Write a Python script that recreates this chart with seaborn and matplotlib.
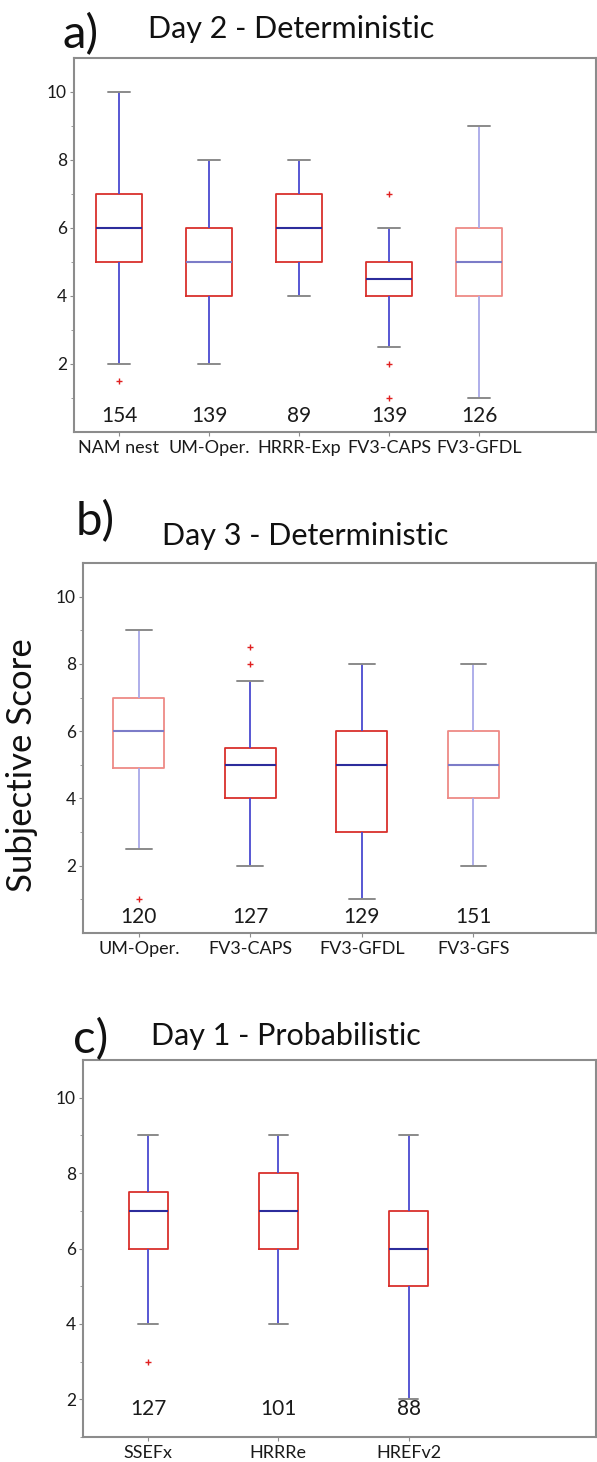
import numpy as np
import pandas as pd
import matplotlib
matplotlib.use("Agg")
import matplotlib.pyplot as plt
import seaborn as sns

# ---------------- data ----------------
# Panel a: Day 2 - Deterministic
a_models = ["NAM nest", "UM-Oper.", "HRRR-Exp", "FV3-CAPS", "FV3-GFDL"]
a_low = [2, 2, 4, 2.5, 1]
a_q1 = [5, 4, 5, 4, 4]
a_med = [6, 5, 6, 4.5, 5]
a_q3 = [7, 6, 7, 5, 6]
a_high = [10, 8, 8, 6, 9]
a_n = [154, 139, 89, 139, 126]
a_out_model = ["NAM nest", "FV3-CAPS", "FV3-CAPS", "FV3-CAPS"]
a_out_val = [1.5, 7, 2, 1]

# Panel b: Day 3 - Deterministic
b_models = ["UM-Oper.", "FV3-CAPS", "FV3-GFDL", "FV3-GFS"]
b_low = [2.5, 2, 1, 2]
b_q1 = [4.9, 4, 3, 4]
b_med = [6, 5, 5, 5]
b_q3 = [7, 5.5, 6, 6]
b_high = [9, 7.5, 8, 8]
b_n = [120, 127, 129, 151]
b_out_model = ["UM-Oper.", "FV3-CAPS", "FV3-CAPS"]
b_out_val = [1, 8, 8.5]

# Panel c: Day 1 - Probabilistic
c_models = ["SSEFx", "HRRRe", "HREFv2"]
c_low = [4, 4, 2]
c_q1 = [6, 6, 5]
c_med = [7, 7, 6]
c_q3 = [7.5, 8, 7]
c_high = [9, 9, 9]
c_n = [127, 101, 88]
c_out_model = ["SSEFx"]
c_out_val = [3]

# ---------------- style ----------------
sns.set_theme(style="white")
FONT = ["Lato", "DejaVu Sans"]
plt.rcParams["font.family"] = FONT

RED = "#d9302c"
RED_L = "#ee8a86"
BLUE = "#4a4ad0"
BLUE_L = "#a8a8e8"
MED = "#2c2c9c"
MED_L = "#7c7cc8"
CAP = "#8a8a8a"
SPINE = "#8c8c8c"

W, H = 597, 1462
fig = plt.figure(figsize=(W / 100, H / 100), dpi=100)


def px_axes(left, top, right, bottom):
    return fig.add_axes([left / W, 1 - bottom / H, (right - left) / W, (bottom - top) / H])


def panel(ax, models, low, q1, med, q3, high, n, out_m, out_v, light, light_med,
          width, xmax, ymin, n_y):
    rows = []
    for m, lo, a, md, b, hi in zip(models, low, q1, med, q3, high):
        for v in (lo, a, a, md, b, b, hi):
            rows.append({"model": m, "score": v})
    df = pd.DataFrame(rows)
    for i, m in enumerate(models):
        lt = light[i]
        sns.boxplot(
            data=df[df["model"] == m], x="model", y="score", order=models,
            whis=(0, 100), width=width, fill=False, showfliers=False, ax=ax,
            boxprops=dict(color=RED_L if lt else RED, linewidth=1.3),
            whiskerprops=dict(color=BLUE_L if lt else BLUE, linewidth=1.3),
            capprops=dict(color=CAP, linewidth=1.4),
            medianprops=dict(color=MED_L if (lt or light_med[i]) else MED, linewidth=1.5),
        )
    sns.stripplot(x=out_m, y=out_v, order=models, jitter=False, marker="+",
                  color="#e02020", size=5, linewidth=1, ax=ax)
    for i, cnt in enumerate(n):
        ax.text(i, n_y, str(cnt), ha="center", va="baseline", fontsize=15,
                color="#1a1a1a", family=FONT)
    ax.set_xlim(-0.5, xmax)
    ax.set_ylim(ymin, 11)
    ax.set_yticks([2, 4, 6, 8, 10])
    ax.set_yticks(range(1, 11), minor=True)
    ax.set_xlabel("")
    ax.set_ylabel("")
    ax.tick_params(axis="y", which="major", length=3, width=0.8, color=SPINE,
                   labelsize=12.5, labelcolor="#1a1a1a", left=True, pad=2)
    ax.tick_params(axis="y", which="minor", length=2, width=0.6, color=SPINE, left=True)
    ax.tick_params(axis="x", length=3, width=0.8, color=SPINE, labelsize=13,
                   labelcolor="#1a1a1a", bottom=True, pad=3)
    for s in ax.spines.values():
        s.set_color(SPINE)
        s.set_linewidth(1.5)
    for lab in ax.get_xticklabels() + ax.get_yticklabels():
        lab.set_family(FONT)


ax_a = px_axes(74, 58, 596, 432)
panel(ax_a, a_models, a_low, a_q1, a_med, a_q3, a_high, a_n, a_out_model, a_out_val,
      [False, False, False, False, True], [False, True, False, False, False],
      0.51, 5.3, 0, 0.3)

ax_b = px_axes(83, 563, 596, 933)
panel(ax_b, b_models, b_low, b_q1, b_med, b_q3, b_high, b_n, b_out_model, b_out_val,
      [True, False, False, True], [False, False, False, False],
      0.46, 4.1, 0, 0.3)

ax_c = px_axes(83, 1060, 596, 1437)
panel(ax_c, c_models, c_low, c_q1, c_med, c_q3, c_high, c_n, c_out_model, c_out_val,
      [False, False, False], [False, False, False],
      0.3, 3.44, 1.4, 1.58)

def ftext(x, y, s, **kw):
    fig.text(x / W, 1 - y / H, s, va="baseline", family=FONT, color="#111111", **kw)

ftext(63, 48, "a)", fontsize=34)
ftext(291, 38, "Day 2 - Deterministic", fontsize=22, ha="center")
ftext(76, 535, "b)", fontsize=34)
ftext(305, 545, "Day 3 - Deterministic", fontsize=22, ha="center")
ftext(73, 1053, "c)", fontsize=34)
ftext(286, 1045, "Day 1 - Probabilistic", fontsize=22, ha="center")

fig.text(22 / W, 1 - 765 / H, "Subjective Score", rotation=90, ha="center",
         va="center", fontsize=25, family=FONT, color="#111111")

fig.savefig("out.png", dpi=100)
